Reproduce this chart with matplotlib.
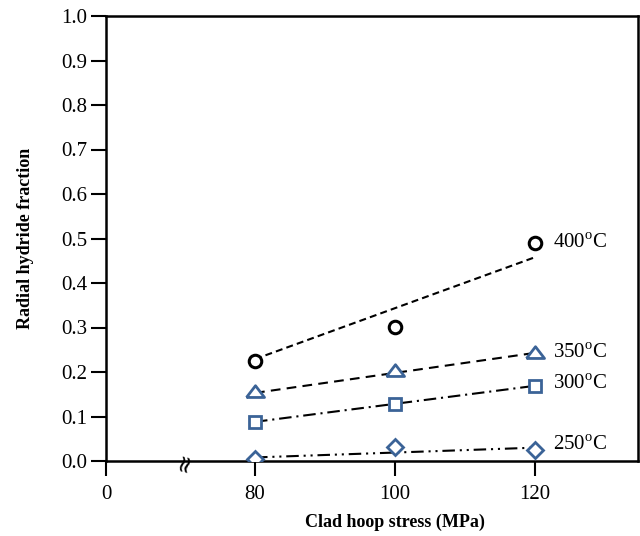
import matplotlib
matplotlib.use("Agg")
import matplotlib.pyplot as plt
import numpy as np

plt.rcParams['font.family'] = ['Liberation Serif', 'DejaVu Serif']
plt.rcParams['mathtext.fontset'] = 'custom'
plt.rcParams['mathtext.rm'] = 'Liberation Serif'
plt.rcParams['lines.scale_dashes'] = False

# measured data (clad hoop stress in MPa, radial hydride fraction)
stress = [80, 100, 120]
rhf_400 = [0.225, 0.301, 0.490]
rhf_350 = [0.155, 0.202, 0.243]
rhf_300 = [0.088, 0.128, 0.169]
rhf_250 = [0.005, 0.031, 0.025]

# trend lines drawn between 80 and 120 MPa
trend_x = [80, 120]
trend_400 = [0.229, 0.458]
trend_350 = [0.153, 0.243]
trend_300 = [0.088, 0.169]
trend_250 = [0.008, 0.030]

labels = ['400$^{\\rm o}$C', '350$^{\\rm o}$C', '300$^{\\rm o}$C', '250$^{\\rm o}$C']
label_y = [0.49, 0.243, 0.173, 0.036]

xticks = [0, 80, 100, 120]
yticks = [0.0, 0.1, 0.2, 0.3, 0.4, 0.5, 0.6, 0.7, 0.8, 0.9, 1.0]

blue = '#3b6397'

# broken x axis: 0-80 squeezed
k = 149 / 7 / 80


def fwd(x):
    x = np.asarray(x, dtype=float)
    return np.where(x < 80, 80 - (80 - x) * k, x)


def inv(y):
    y = np.asarray(y, dtype=float)
    return np.where(y < 80, 80 - (80 - y) / k, y)


fig = plt.figure(figsize=(6.4, 5.36), dpi=100)
ax = fig.add_axes([106 / 640, 1 - 461 / 536, 532 / 640, 445 / 536])
ax.set_xscale('function', functions=(fwd, inv))

tri = [(-1, -0.55), (1, -0.55), (0, 0.75), (-1, -0.55)]

ax.plot(trend_x, trend_400, color='black', lw=1.5, dashes=(5, 3), zorder=2)
ax.plot(trend_x, trend_350, color='black', lw=1.5, dashes=(7, 4.5), zorder=2)
ax.plot(trend_x, trend_300, color='black', lw=1.5, dashes=(9, 3.5, 1.5, 3.5), zorder=2)
ax.plot(trend_x, trend_250, color='black', lw=1.5,
        dashes=(9, 3.5, 1.5, 3.5, 1.5, 3.5), zorder=2)

ax.plot(stress, rhf_400, ls='none', marker='o', ms=9, mfc='white', mec='black', mew=2.2, zorder=3)
ax.plot(stress, rhf_350, ls='none', marker=tri, ms=13, mfc='white', mec=blue, mew=2.0, zorder=3)
ax.plot(stress, rhf_300, ls='none', marker='s', ms=9, mfc='white', mec=blue, mew=2.0, zorder=3)
ax.plot(stress, rhf_250, ls='none', marker='D', ms=8.5, mfc='white', mec=blue, mew=2.0, zorder=3)

for lab, yy in zip(labels, label_y):
    ax.text(122.6, yy, lab, fontsize=15, va='center', ha='left')

# axis break mark
ax.text(0.148, -0.003, '\u2248', transform=ax.transAxes, fontsize=17, rotation=75,
        ha='center', va='center', family='DejaVu Sans')

ax.set_xlim(0, 134.7)
ax.set_ylim(0, 1.0)
ax.set_xticks(xticks)
ax.set_xticklabels([str(t) for t in xticks])
ax.set_yticks(yticks)
ax.set_yticklabels(['%.1f' % t for t in yticks])
ax.minorticks_off()
ax.tick_params(direction='out', length=11, width=1.5, labelsize=15, pad=2.5)
ax.tick_params(axis='x', pad=6)

for s in ax.spines.values():
    s.set_linewidth(1.8)

ax.set_xlabel('Clad hoop stress (MPa)', fontsize=13, fontweight='bold')
ax.xaxis.set_label_coords((395 - 106) / 532, -0.118)
ax.set_ylabel('Radial hydride fraction', fontsize=13, fontweight='bold')
ax.yaxis.set_label_coords(-0.136, (461 - 238) / 445)

fig.savefig('out.png', dpi=100)
